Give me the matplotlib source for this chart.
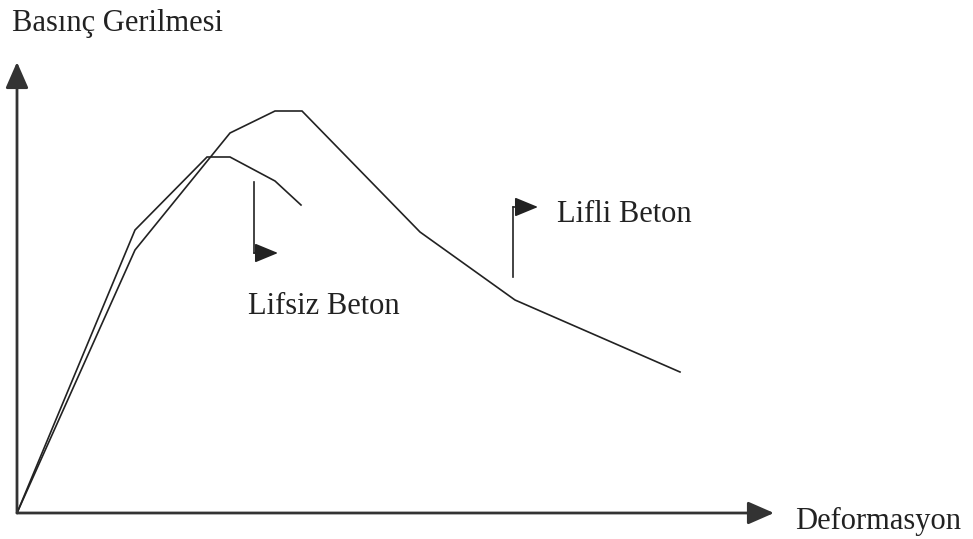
from matplotlib import pyplot as plt

# schematic stress-strain curves (units ~ pixels from the origin)
lifliX = [0, 118, 213, 258, 285, 403, 498, 663]
lifliY = [0, 263, 380, 402, 402, 281, 213, 141]
lifsizX = [0, 118, 190, 213, 258, 284]
lifsizY = [0, 283, 356, 356, 332, 308]

yLabel = 'Basınç Gerilmesi'
xLabel = 'Deformasyon'
lifliLabel = 'Lifli Beton'
lifsizLabel = 'Lifsiz Beton'

lineColor = '#222222'
axisColor = '#333333'

plt.rcParams['font.family'] = ['Liberation Serif', 'DejaVu Serif']

fig = plt.figure(figsize=(9.73, 5.39), dpi=100)
ax = fig.add_axes([0, 0, 1, 1])
ax.set_xlim(-17, 956)
ax.set_ylim(-26, 513)
ax.axis('off')

# axes with arrows
head = dict(arrowstyle='-|>,head_length=0.8,head_width=0.35', color=axisColor,
            lw=2, shrinkA=0, shrinkB=0, mutation_scale=20)
ax.annotate('', xy=(0, 451), xytext=(0, 0), arrowprops=head)
ax.annotate('', xy=(757, 0), xytext=(0, 0), arrowprops=head)

# curves
ax.plot(lifliX, lifliY, color=lineColor, lw=1.2, solid_joinstyle='miter')
ax.plot(lifsizX, lifsizY, color=lineColor, lw=1.2, solid_joinstyle='miter')

# elbow pointers
small = dict(arrowstyle='-|>,head_length=0.8,head_width=0.33', color=lineColor,
             lw=1.2, shrinkA=0, shrinkB=0, mutation_scale=18)
ax.plot([237, 237], [331, 260], color=lineColor, lw=1.2)
ax.annotate('', xy=(261, 260), xytext=(237, 260), arrowprops=small)
ax.plot([496, 496], [236, 306], color=lineColor, lw=1.2)
ax.annotate('', xy=(521, 306), xytext=(496, 306), arrowprops=small)

# labels
ax.text(-5, 489, yLabel, fontsize=22, va='center', ha='left', color='#222222')
ax.text(778, -8, xLabel, fontsize=22, va='center', ha='left', color='#222222')
ax.text(231, 207, lifsizLabel, fontsize=22, va='center', ha='left', color='#222222')
ax.text(540, 299, lifliLabel, fontsize=22, va='center', ha='left', color='#222222')

fig.savefig('out.png', dpi=100)
